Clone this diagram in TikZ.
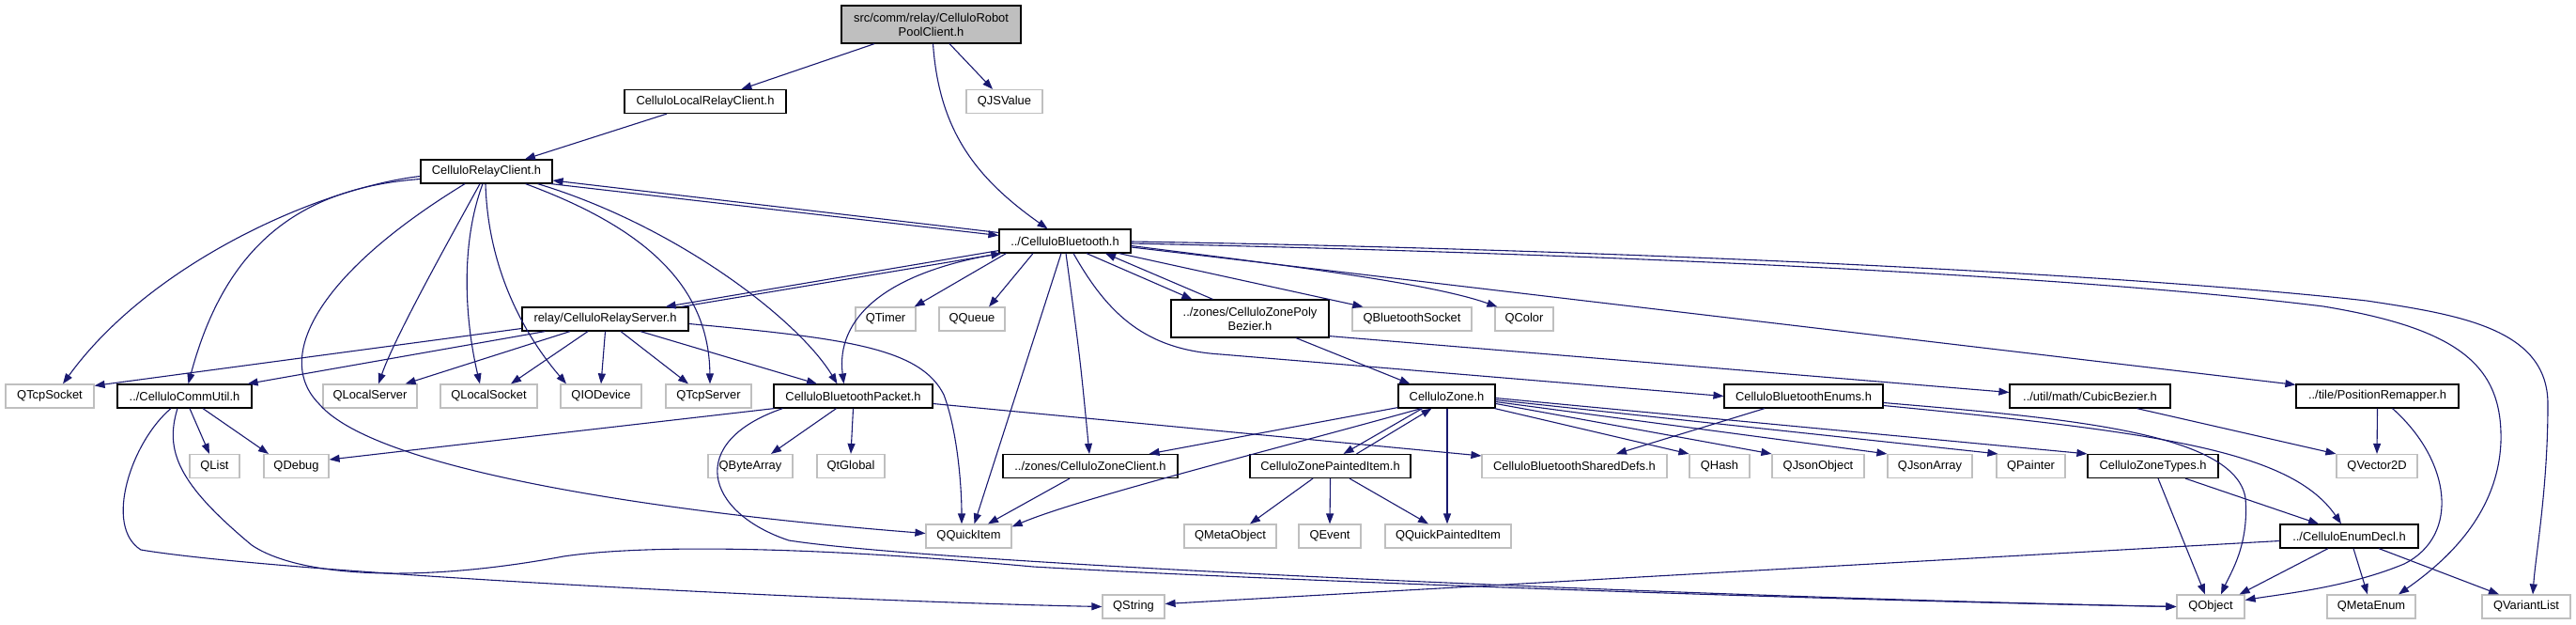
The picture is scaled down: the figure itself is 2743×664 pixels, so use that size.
\documentclass[tikz,border=0pt]{standalone}
\usepackage{fontspec}
\setmainfont{Liberation Sans}
\usetikzlibrary{arrows.meta,calc}
\definecolor{edgeblue}{HTML}{191970}
\definecolor{boxgray}{HTML}{BFBFBF}
\newcommand\dgfont{\fontsize{12.9}{15}\selectfont}
\begin{document}
\begin{tikzpicture}[x=1pt,y=-1pt,
  nb/.style={draw=black, fill=white, line width=1.2pt, inner sep=0pt, minimum height=25pt, font=\dgfont},
  ng/.style={draw=boxgray, fill=white, line width=1.2pt, inner sep=0pt, minimum height=25pt, font=\dgfont},
  nr/.style={draw=black, fill=boxgray, line width=1.2pt, inner sep=0pt, minimum height=40pt, align=center, font=\dgfont},
  dep/.style={draw=edgeblue, line width=1.1pt, -{Triangle[length=11pt,width=8pt]}}]
\useasboundingbox (0,0) rectangle (2743,664);
% nodes
\node[nr, minimum width=191pt] (root) at (991.5,26) {src/comm/relay/CelluloRobot\\PoolClient.h};
\node[nb, minimum width=172pt] (localrelay) at (751,108) {CelluloLocalRelayClient.h};
\node[ng, minimum width=81pt] (qjsvalue) at (1069.5,108) {QJSValue};
\node[nb, minimum width=140pt] (relayclient) at (518,182.5) {CelluloRelayClient.h};
\node[nb, minimum width=140pt] (bluetooth) at (1134,256.5) {../CelluloBluetooth.h};
\node[nb, minimum width=177pt] (relayserver) at (644.5,339.5) {relay/CelluloRelayServer.h};
\node[ng, minimum width=64pt] (qtimer) at (943,339.5) {QTimer};
\node[ng, minimum width=70pt] (qqueue) at (1035,339.5) {QQueue};
\node[nb, minimum width=168pt, minimum height=40pt, align=center] (zonepoly) at (1331,339) {../zones/CelluloZonePoly\\Bezier.h};
\node[ng, minimum width=127pt] (qbtsocket) at (1503.5,339.5) {QBluetoothSocket};
\node[ng, minimum width=62pt] (qcolor) at (1623,339.5) {QColor};
% row 421.5
\node[ng, minimum width=94pt] (qtcpsocket) at (53,421.5) {QTcpSocket};
\node[nb, minimum width=143pt] (commutil) at (196.5,421.5) {../CelluloCommUtil.h};
\node[ng, minimum width=100pt] (qlocalserver) at (394,421.5) {QLocalServer};
\node[ng, minimum width=103pt] (qlocalsocket) at (520.5,421.5) {QLocalSocket};
\node[ng, minimum width=86pt] (qiodevice) at (640,421.5) {QIODevice};
\node[ng, minimum width=91pt] (qtcpserver) at (754.5,421.5) {QTcpServer};
\node[nb, minimum width=169pt] (btpacket) at (908.5,421.5) {CelluloBluetoothPacket.h};
\node[nb, minimum width=103pt] (zone) at (1540.5,421.5) {CelluloZone.h};
\node[nb, minimum width=169pt] (btenums) at (1920.5,421.5) {CelluloBluetoothEnums.h};
\node[nb, minimum width=171pt] (cubicbezier) at (2225.5,421.5) {../util/math/CubicBezier.h};
\node[nb, minimum width=173pt] (posremapper) at (2531.5,421.5) {../tile/PositionRemapper.h};
% row 496
\node[ng, minimum width=53pt] (qlist) at (228.5,496) {QList};
\node[ng, minimum width=69pt] (qdebug) at (315.5,496) {QDebug};
\node[ng, minimum width=90pt] (qbytearray) at (799,496) {QByteArray};
\node[ng, minimum width=72pt] (qtglobal) at (906,496) {QtGlobal};
\node[nb, minimum width=186pt] (zoneclient) at (1161,496) {../zones/CelluloZoneClient.h};
\node[nb, minimum width=171pt] (zonepainted) at (1416.5,496) {CelluloZonePaintedItem.h};
\node[ng, minimum width=197pt] (shareddefs) at (1676.5,496) {CelluloBluetoothSharedDefs.h};
\node[ng, minimum width=64pt] (qhash) at (1831,496) {QHash};
\node[ng, minimum width=98pt] (qjsonobject) at (1936,496) {QJsonObject};
\node[ng, minimum width=90pt] (qjsonarray) at (2055,496) {QJsonArray};
\node[ng, minimum width=73pt] (qpainter) at (2162.5,496) {QPainter};
\node[nb, minimum width=139pt] (zonetypes) at (2292.5,496) {CelluloZoneTypes.h};
\node[ng, minimum width=86pt] (qvector2d) at (2531,496) {QVector2D};
% row 570.5
\node[ng, minimum width=91pt] (qquickitem) at (1031.5,570.5) {QQuickItem};
\node[ng, minimum width=98pt] (qmetaobject) at (1310,570.5) {QMetaObject};
\node[ng, minimum width=66pt] (qevent) at (1416,570.5) {QEvent};
\node[ng, minimum width=134pt] (qquickpainted) at (1542,570.5) {QQuickPaintedItem};
\node[nb, minimum width=147pt] (enumdecl) at (2501.5,570.5) {../CelluloEnumDecl.h};
% row 645.5
\node[ng, minimum width=66pt] (qstring) at (1207,645.5) {QString};
\node[ng, minimum width=72pt] (qobject) at (2354,645.5) {QObject};
\node[ng, minimum width=94pt] (qmetaenum) at (2525,645.5) {QMetaEnum};
\node[ng, minimum width=94pt] (qvariantlist) at (2690,645.5) {QVariantList};

% edges: root
\draw[dep] (root) -- (localrelay);
\draw[dep] (root) -- (qjsvalue);
\draw[dep] ($(root.south)+(2,0)$) .. controls (1000,140) and (1040,190) .. (bluetooth);
\draw[dep] (localrelay) -- (relayclient);
% relay client
\draw[dep] ($(relayclient.south east)+(-2,0)$) -- ($(bluetooth.west)+(0,-6)$);
\draw[dep] ($(bluetooth.west)+(0,-9)$) -- ($(relayclient.east)+(0,9.5)$);
\draw[dep] ($(relayclient.west)+(0,5)$) .. controls (340,200) and (160,280) .. ($(qtcpsocket.north)+(14,0)$);
\draw[dep] ($(relayclient.west)+(0,8)$) .. controls (320,200) and (240,260) .. ($(commutil.north)+(4,0)$);
\draw[dep] ($(relayclient.south)+(-23,0)$) .. controls (340,290) and (290,380) .. (340,430) .. controls (400,500) and (700,545) .. ($(qquickitem.west)+(0,-3)$);
\draw[dep] ($(relayclient.south)+(-7,0)$) .. controls (470,270) and (420,360) .. ($(qlocalserver.north)+(9,0)$);
\draw[dep] ($(relayclient.south)+(-4,0)$) .. controls (490,260) and (495,340) .. ($(qlocalsocket.north)+(-9.5,0)$);
\draw[dep] ($(relayclient.south)+(-1,0)$) .. controls (520,300) and (570,370) .. ($(qiodevice.north)+(-37,0)$);
\draw[dep] ($(relayclient.south east)+(-29,0)$) .. controls (680,240) and (755,300) .. ($(qtcpserver.north)+(1.5,0)$);
\draw[dep] ($(relayclient.south east)+(-16,0)$) .. controls (720,240) and (850,340) .. ($(btpacket.north)+(-17,0)$);
% relay server
\draw[dep] ($(relayserver.north east)+(-8,0)$) -- ($(bluetooth.south west)+(3,0)$);
\draw[dep] ($(bluetooth.south west)+(0,-3)$) -- ($(relayserver.north east)+(-25,0)$);
\draw[dep] ($(relayserver.west)+(0,10)$) -- ($(qtcpsocket.north east)+(0,2)$);
\draw[dep] ($(relayserver.south west)+(25,0)$) -- ($(commutil.north east)+(-5,0)$);
\draw[dep] ($(relayserver.south)+(-37.5,0)$) -- ($(qlocalserver.north east)+(-13,0)$);
\draw[dep] ($(relayserver.south)+(-18.5,0)$) -- ($(qlocalsocket.north)+(23.5,0)$);
\draw[dep] (relayserver.south) -- (qiodevice.north);
\draw[dep] ($(relayserver.south)+(16.5,0)$) -- ($(qtcpserver.north)+(-21.5,0)$);
\draw[dep] ($(relayserver.south)+(37.5,0)$) -- ($(btpacket.north)+(-38.5,0)$);
\draw[dep] ($(relayserver.east)+(0,5)$) .. controls (900,360) and (980,370) .. (1005,420) .. controls (1020,460) and (1024,520) .. ($(qquickitem.north)+(-7.5,0)$);
% bluetooth
\draw[dep] ($(bluetooth.south west)+(8,0)$) -- ($(qtimer.north east)+(-2,0)$);
\draw[dep] ($(bluetooth.south)+(-34,0)$) -- ($(qqueue.north)+(18,0)$);
\draw[dep] ($(bluetooth.south)+(-4,0)$) -- ($(qquickitem.north)+(6,0)$);
\draw[dep] ($(bluetooth.south)+(1,0)$) .. controls (1150,380) .. ($(zoneclient.north)+(-1,0)$);
\draw[dep] ($(bluetooth.south west)+(2,0)$) .. controls (940,290) and (890,340) .. ($(btpacket.north)+(-10,0)$);
\draw[dep] ($(bluetooth.south)+(9,0)$) .. controls (1180,335) and (1220,372) .. (1300,377) -- (btenums.west);
\draw[dep] ($(bluetooth.south)+(23,0)$) -- ($(zonepoly.north west)+(23,0)$);
\draw[dep] ($(zonepoly.north west)+(45,0)$) -- ($(bluetooth.south)+(43,0)$);
\draw[dep] ($(bluetooth.south east)+(-13,0)$) -- ($(qbtsocket.north west)+(12,0)$);
\draw[dep] ($(bluetooth.east)+(0,5)$) .. controls (1350,280) and (1520,300) .. ($(qcolor.north west)+(3,0)$);
\draw[dep] ($(bluetooth.east)+(0,6.5)$) -- ($(posremapper.north west)+(0,1)$);
\draw[dep] ($(bluetooth.east)+(0,0.5)$) .. controls (1700,265) and (2250,290) .. (2520,320) .. controls (2620,335) and (2713,350) .. (2713,430) .. controls (2713,520) and (2700,590) .. ($(qvariantlist.north)+(7,0)$);
\draw[dep] ($(bluetooth.east)+(0,2.5)$) .. controls (1700,270) and (2200,292) .. (2474,326) .. controls (2620,350) and (2665,390) .. (2663,470) .. controls (2660,550) and (2600,600) .. ($(qmetaenum.north)+(29,0)$);
% zone poly
\draw[dep] ($(zonepoly.south)+(49,0)$) -- ($(zone.north west)+(13,0)$);
\draw[dep] ($(zonepoly.south east)+(0,-2)$) -- ($(cubicbezier.west)+(0,-4)$);
% comm util
\draw[dep] ($(commutil.south)+(5.5,0)$) -- ($(qlist.north)+(-5.5,0)$);
\draw[dep] ($(commutil.south)+(19.5,0)$) -- ($(qdebug.north)+(-29.5,0)$);
\draw[dep] ($(commutil.south)+(-14.5,0)$) .. controls (140,470) and (110,560) .. (150,585) .. controls (300,610) and (900,640) .. (qstring.west);
\draw[dep] ($(commutil.south)+(-7.5,0)$) .. controls (175,480) and (190,515) .. (268,580) .. controls (320,615) and (450,620) .. (600,592) .. controls (680,580) and (850,580) .. (1100,603) .. controls (1400,620) and (2000,640) .. (qobject.west);
% bluetooth packet
\draw[dep] ($(btpacket.south west)+(1,0)$) -- ($(qdebug.east)+(0,-7)$);
\draw[dep] ($(btpacket.south)+(-18,0)$) -- ($(qbytearray.north)+(22,0)$);
\draw[dep] (btpacket.south) -- (qtglobal.north);
\draw[dep] ($(btpacket.east)+(0,8)$) -- ($(shareddefs.west)+(0,-11)$);
\draw[dep] ($(btpacket.south west)+(10,0)$) .. controls (730,470) and (750,545) .. (840,575) .. controls (1000,600) and (1800,635) .. (qobject.west);
% zone
\draw[dep] ($(zone.south west)+(0,-1)$) -- ($(zoneclient.north east)+(-31,0)$);
\draw[dep] ($(zone.south west)+(25,0)$) .. controls (1350,480) and (1150,530) .. ($(qquickitem.north east)+(0,3)$);
\draw[dep] ($(zone.south)+(-26,0)$) -- ($(zonepainted.north)+(14,0)$);
\draw[dep] ($(zonepainted.north)+(28,0)$) -- ($(zone.south)+(-16,0)$);
\draw[dep] ($(zone.south)+(0.5,0)$) -- ($(qquickpainted.north)+(-1,0)$);
\draw[dep] ($(zone.south east)+(-1,0)$) -- (qhash.north west);
\draw[dep] ($(zone.east)+(0,8)$) -- (qjsonobject.north west);
\draw[dep] ($(zone.east)+(0,6)$) -- (qjsonarray.north west);
\draw[dep] ($(zone.east)+(0,4)$) -- ($(qpainter.north west)+(2,0)$);
\draw[dep] ($(zone.east)+(0,2)$) -- (zonetypes.north west);
% zone painted item
\draw[dep] ($(zonepainted.south)+(-18.5,0)$) -- ($(qmetaobject.north)+(21,0)$);
\draw[dep] (zonepainted.south) -- (qevent.north);
\draw[dep] ($(zonepainted.south)+(20.5,0)$) -- ($(qquickpainted.north)+(-21,0)$);
% zone client
\draw[dep] ($(zoneclient.south)+(-22,0)$) -- ($(qquickitem.north)+(20.5,0)$);
% bluetooth enums
\draw[dep] ($(btenums.south)+(-41.5,0)$) -- ($(shareddefs.north)+(44.5,0)$);
\draw[dep] ($(btenums.east)+(0,7)$) .. controls (2200,445) and (2380,460) .. (2391,530) .. controls (2395,580) and (2375,610) .. ($(qobject.north)+(11,0)$);
\draw[dep] ($(btenums.east)+(0,10)$) .. controls (2300,460) and (2440,480) .. ($(enumdecl.north)+(-8.5,0)$);
% cubic bezier, position remapper
\draw[dep] ($(cubicbezier.south)+(50,0)$) -- (qvector2d.north west);
\draw[dep] (posremapper.south) -- (qvector2d.north);
\draw[dep] ($(posremapper.south)+(16,0)$) .. controls (2610,490) and (2620,570) .. (2560,600) .. controls (2500,625) and (2430,632) .. ($(qobject.east)+(0,-7)$);
% zone types
\draw[dep] ($(zonetypes.south)+(5.5,0)$) -- ($(qobject.north)+(-6,0)$);
\draw[dep] ($(zonetypes.south)+(34.5,0)$) -- ($(enumdecl.north)+(-32.5,0)$);
% enum decl
\draw[dep] ($(enumdecl.south)+(-22.5,0)$) -- ($(qobject.north east)+(-6,0)$);
\draw[dep] ($(enumdecl.south)+(4.5,0)$) -- ($(qmetaenum.north)+(-4,0)$);
\draw[dep] ($(enumdecl.south)+(31.5,0)$) -- ($(qvariantlist.north)+(-29,0)$);
\draw[dep] ($(enumdecl.west)+(0,5)$) -- ($(qstring.east)+(0,-3)$);
\end{tikzpicture}
\end{document}
